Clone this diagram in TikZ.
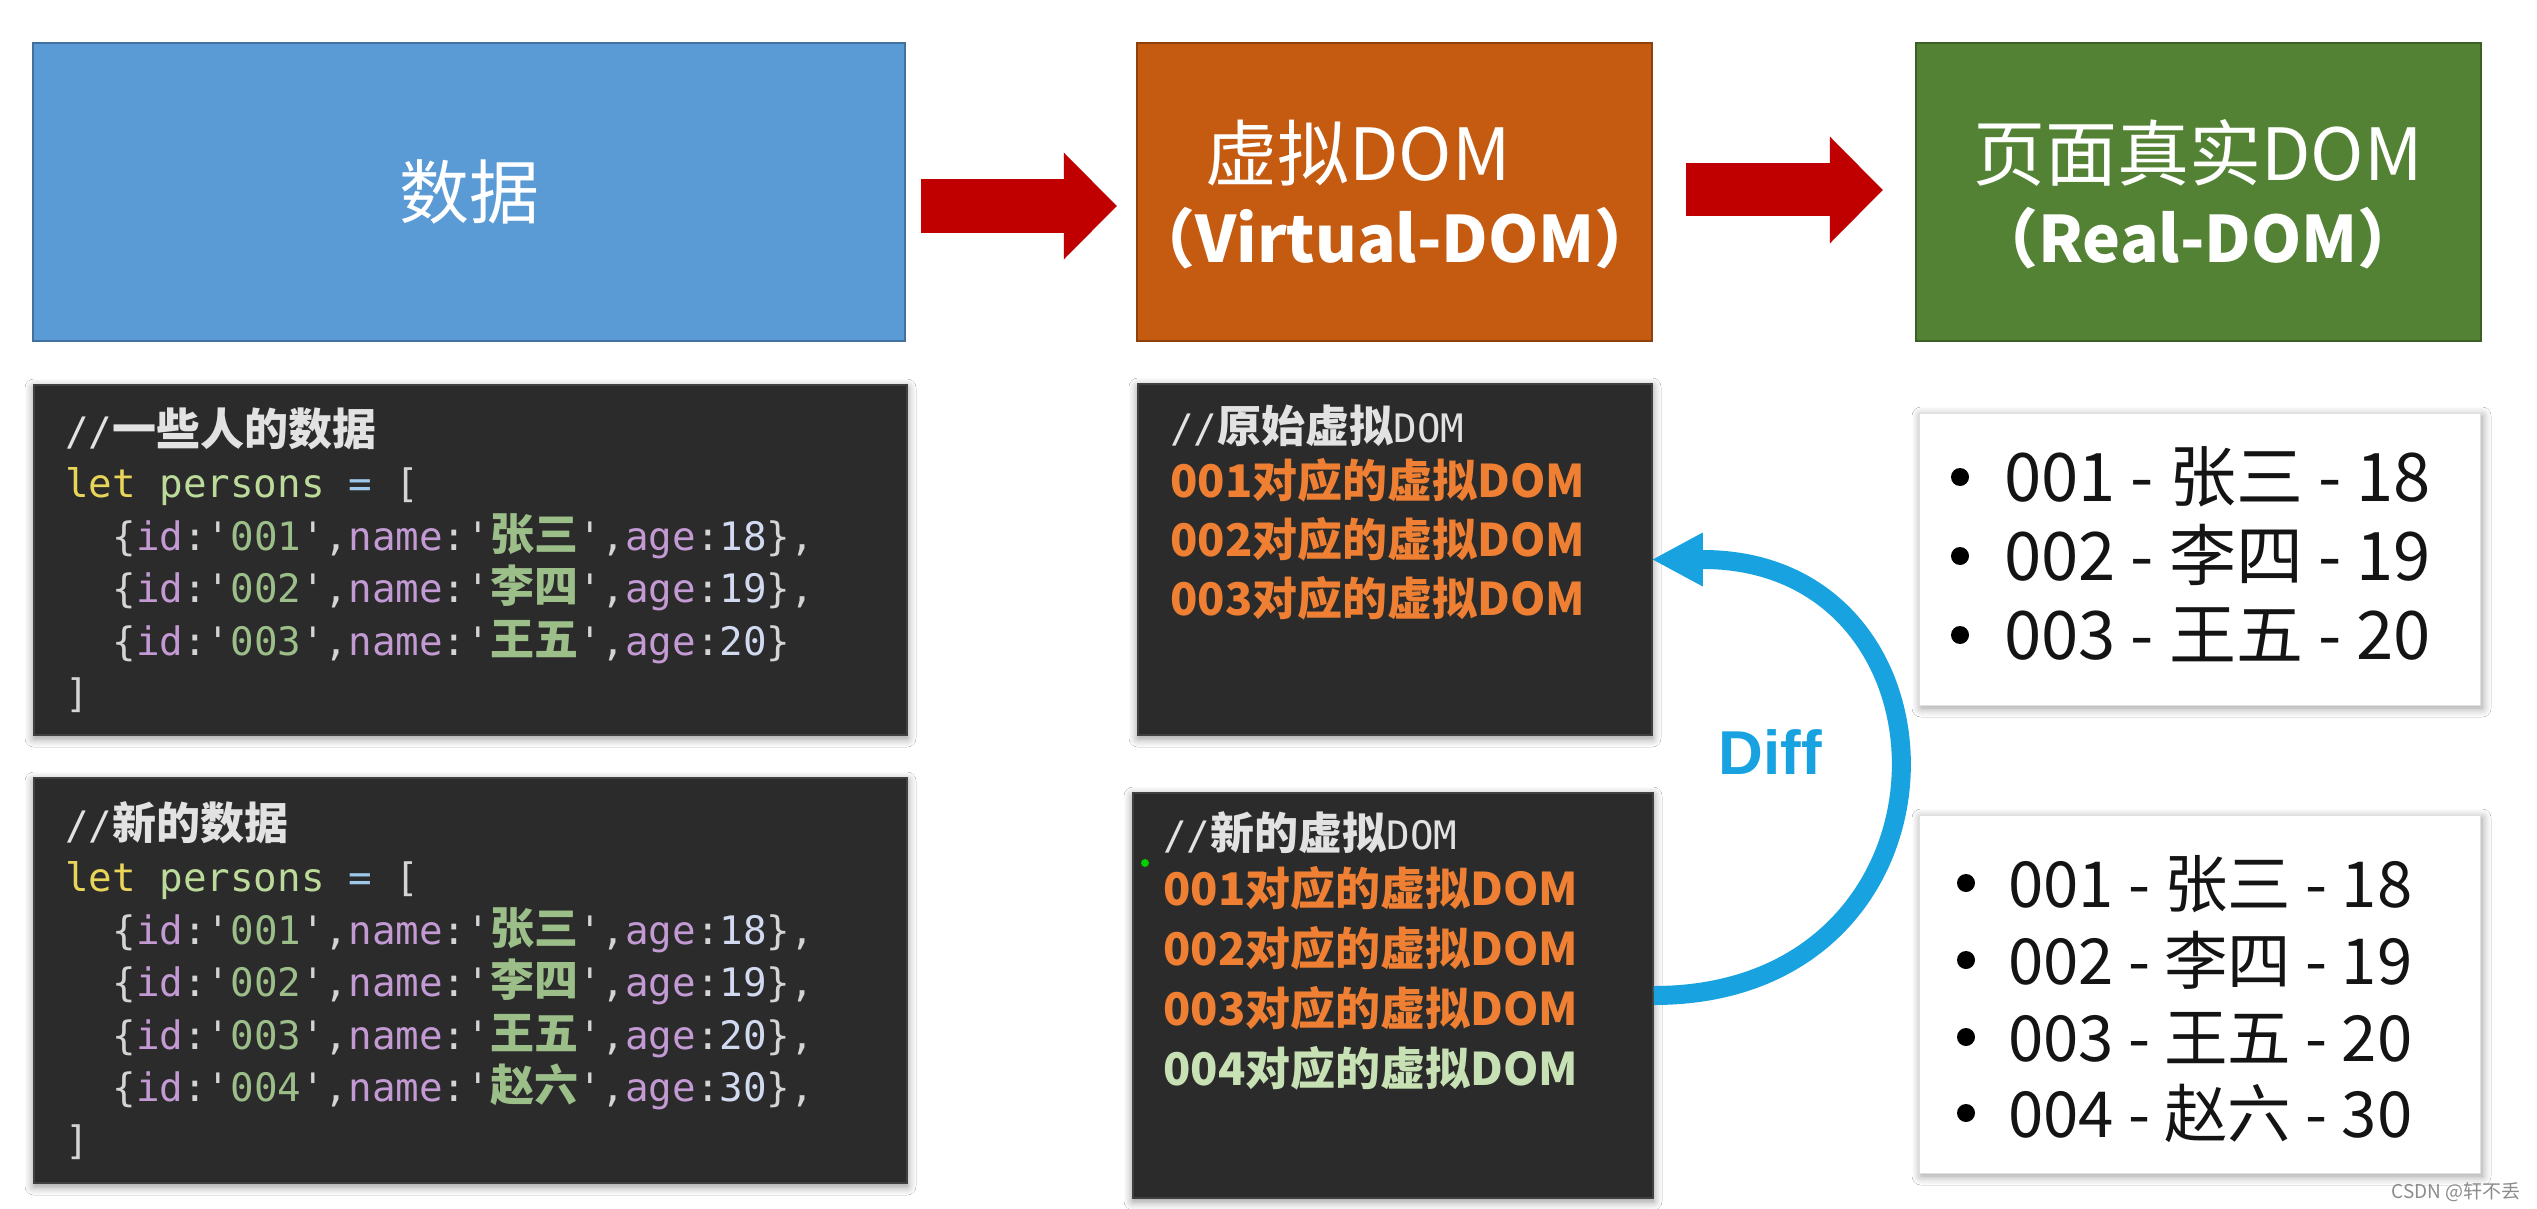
\documentclass[tikz,border=0pt]{standalone}
\usepackage{fontspec}
\setmainfont{Noto Sans CJK SC}
\newfontfamily\cjk{Noto Sans CJK SC}
\newfontfamily\monof{DejaVu Sans Mono}
\newfontfamily\arialf{Liberation Sans}
\usetikzlibrary{arrows.meta,shadows.blur,calc}

\definecolor{boxblue}{HTML}{5B9BD5}
\definecolor{boxblueb}{HTML}{41719C}
\definecolor{boxorange}{HTML}{C55A11}
\definecolor{boxorangeb}{HTML}{8F410C}
\definecolor{boxgreen}{HTML}{548235}
\definecolor{boxgreenb}{HTML}{3B5E25}
\definecolor{arrred}{HTML}{C00000}
\definecolor{codebg}{HTML}{2B2B2B}
\definecolor{cpun}{HTML}{D4D4D4}
\definecolor{ckey}{HTML}{C39AD4}
\definecolor{cstr}{HTML}{9CBF8A}
\definecolor{cnum}{HTML}{D2DAF2}
\definecolor{clet}{HTML}{E8D55A}
\definecolor{cvar}{HTML}{BCDB9A}
\definecolor{cop}{HTML}{9FC8EC}
\definecolor{ccom}{HTML}{E2E2E2}
\definecolor{vorange}{HTML}{EE7F33}
\definecolor{vgreen}{HTML}{C7E0B4}
\definecolor{diffblue}{HTML}{18A3E0}

\newcommand\Pu[1]{\textcolor{cpun}{#1}}
\newcommand\Ky[1]{\textcolor{ckey}{#1}}
\newcommand\St[1]{\textcolor{cstr}{#1}}
\newcommand\Nm[1]{\textcolor{cnum}{#1}}
\newcommand\Ck[1]{{\cjk\bfseries\fontsize{44}{52}\selectfont #1}}
\newcommand\Q{\textquotesingle}
\newcommand\Ind{\hspace*{47.2pt}}
\newcommand\Sp{\hspace*{23.6pt}}
\newcommand\Row[4]{\Ind\Pu{\{}\Ky{id}\Pu{:\Q}\St{#1}\Pu{\Q,}\Ky{name}\Pu{:\Q}\St{\Ck{#2}}\Pu{\Q,}\Ky{age}\Pu{:}\Nm{#3}\Pu{\}#4}}

\tikzset{
  topbox/.style={draw, line width=2.5pt, inner sep=0pt, text=white, font=\cjk\fontsize{70}{84}\selectfont},
  codebox/.style={fill=codebg, draw=black!75, line width=1.5pt, inner sep=0pt,
    blur shadow={shadow xshift=0pt, shadow yshift=-3pt, shadow blur radius=9pt, shadow blur steps=8, shadow opacity=45}},
  listbox/.style={fill=white, draw=black!12, line width=0.8pt, inner sep=0pt,
    blur shadow={shadow xshift=2pt, shadow yshift=-3pt, shadow blur radius=9pt, shadow blur steps=8, shadow opacity=40}},
  codeline/.style={anchor=base west, inner sep=0pt, font=\monof\fontsize{39.2}{52}\selectfont},
  vline/.style={anchor=base west, inner sep=0pt, font=\cjk\bfseries\fontsize{45}{54}\selectfont, text=vorange},
  listline/.style={anchor=base west, inner sep=0pt, text=black!92},
  toptext/.style={anchor=base, inner sep=0pt, text=white, font=\cjk\fontsize{72}{84}\selectfont},
  topsub/.style={anchor=base, inner sep=0pt, text=white, font=\cjk\bfseries\fontsize{64}{76}\selectfont},
  redarrow/.style={draw=arrred, line width=53pt, -{Triangle[length=53pt,width=107pt,line width=0pt]}},
  diffarrow/.style={draw=diffblue, line width=19pt, -{Triangle[length=50pt,width=54pt,line width=0pt]}},
}

\begin{document}
\begin{tikzpicture}[x=1pt,y=-1pt]
\fill[white] (0,0) rectangle (2537,1209);
\useasboundingbox (0,0) rectangle (2537,1209);

% top boxes
\node[topbox, fill=boxblue, draw=boxblueb, minimum width=872pt, minimum height=298pt] (data) at (469,192) {数据};
\node[topbox, fill=boxorange, draw=boxorangeb, minimum width=515pt, minimum height=298pt] (vdom) at (1394.5,192) {};
\node[topbox, fill=boxgreen, draw=boxgreenb, minimum width=565pt, minimum height=298pt] (real) at (2198.5,192) {};
\node[toptext] (vdt1) at (1358,181) {虚拟DOM};
\node[topsub] (vdt2) at (1395,262) {（Virtual-DOM）};
\node[toptext] (rdt1) at (2198,181) {页面真实DOM};
\node[topsub] (rdt2) at (2198,262) {（Real-DOM）};

% red arrows
\draw[redarrow] ([xshift=15pt,yshift=-14pt]data.east) -- ([xshift=-19pt,yshift=-14pt]vdom.west);
\draw[redarrow] ([xshift=33pt,yshift=2pt]vdom.east) -- ([xshift=-32pt,yshift=2pt]real.west);

% code box 1
\node[codebox, minimum width=873pt, minimum height=350pt] (cb1) at (470.5,560) {};
\node[codeline, text=ccom] (c1a) at (65,445) {//\Ck{一些人的数据}};
\node[codeline] (c1b) at (65,497.5) {\textcolor{clet}{let}\Sp\textcolor{cvar}{persons}\Sp\textcolor{cop}{=}\Sp\Pu{[}};
\node[codeline] (c1c) at (65,550) {\Row{001}{张三}{18}{,}};
\node[codeline] (c1d) at (65,602.5) {\Row{002}{李四}{19}{,}};
\node[codeline] (c1e) at (65,655) {\Row{003}{王五}{20}{}};
\node[codeline] (c1f) at (65,707.5) {\Pu{]}};

% code box 2
\node[codebox, minimum width=873pt, minimum height=405pt] (cb2) at (470.5,980.5) {};
\node[codeline, text=ccom] (c2a) at (65,839) {//\Ck{新的数据}};
\node[codeline] (c2b) at (65,891.5) {\textcolor{clet}{let}\Sp\textcolor{cvar}{persons}\Sp\textcolor{cop}{=}\Sp\Pu{[}};
\node[codeline] (c2c) at (65,944) {\Row{001}{张三}{18}{,}};
\node[codeline] (c2d) at (65,996.5) {\Row{002}{李四}{19}{,}};
\node[codeline] (c2e) at (65,1049) {\Row{003}{王五}{20}{,}};
\node[codeline] (c2f) at (65,1101.5) {\Row{004}{赵六}{30}{,}};
\node[codeline] (c2g) at (65,1154) {\Pu{]}};

% virtual DOM boxes
\node[codebox, minimum width=514pt, minimum height=351pt] (vd1) at (1395,559.5) {};
\node[codeline, text=ccom] (v1a) at (1170,442) {//\Ck{原始虚拟}DOM};
\node[vline] (v1b) at (1170,497) {001对应的虚拟DOM};
\node[vline] (v1c) at (1170,556) {002对应的虚拟DOM};
\node[vline] (v1d) at (1170,615) {003对应的虚拟DOM};

\node[codebox, minimum width=520pt, minimum height=405pt] (vd2) at (1393,995.5) {};
\node[codeline, text=ccom] (v2a) at (1163,849) {//\Ck{新的虚拟}DOM};
\node[vline] (v2b) at (1163,905) {001对应的虚拟DOM};
\node[vline] (v2c) at (1163,965) {002对应的虚拟DOM};
\node[vline] (v2d) at (1163,1025) {003对应的虚拟DOM};
\node[vline, text=vgreen] (v2e) at (1163,1085) {004对应的虚拟DOM};
\fill[green!80!black] (1145,863) circle[radius=4pt];

% real DOM lists
\node[listbox, minimum width=561pt, minimum height=292pt] (rd1) at (2199.5,559) {};
\node[listline, font=\cjk\fontsize{67}{78}\selectfont] (r1a) at (2004,501) {001 - 张三 - 18};
\node[listline, font=\cjk\fontsize{67}{78}\selectfont] (r1b) at (2004,580) {002 - 李四 - 19};
\node[listline, font=\cjk\fontsize{67}{78}\selectfont] (r1c) at (2004,659) {003 - 王五 - 20};
\foreach \yy in {477,556,635} \fill[black] (1960,\yy) circle[radius=9pt];

\node[listbox, minimum width=561pt, minimum height=358pt] (rd2) at (2199.5,994) {};
\node[listline, font=\cjk\fontsize{63.5}{74}\selectfont] (r2a) at (2008,907) {001 - 张三 - 18};
\node[listline, font=\cjk\fontsize{63.5}{74}\selectfont] (r2b) at (2008,984) {002 - 李四 - 19};
\node[listline, font=\cjk\fontsize{63.5}{74}\selectfont] (r2c) at (2008,1061) {003 - 王五 - 20};
\node[listline, font=\cjk\fontsize{63.5}{74}\selectfont] (r2d) at (2008,1137) {004 - 赵六 - 30};
\foreach \yy in {883,960,1037,1113} \fill[black] (1966,\yy) circle[radius=9pt];

% diff arrow
\draw[diffarrow] (vd2.east) .. controls +(322,0) and +(322,0) .. (vd1.east);
\node[inner sep=0pt, text=diffblue, font=\arialf\bfseries\fontsize{62}{70}\selectfont] (diff) at (1770,752) {Diff};

% watermark
\node[anchor=base east, inner sep=0pt, text=black!45, font=\cjk\fontsize{19}{22}\selectfont] (wm) at (2521,1198) {CSDN @轩不丢};
\end{tikzpicture}
\end{document}
